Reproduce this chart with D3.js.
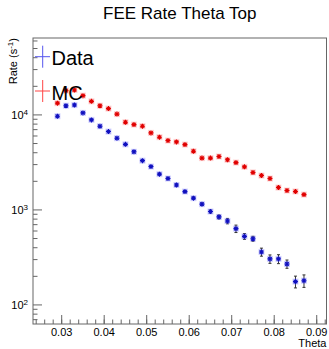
<!DOCTYPE html>
<html>
<head>
<meta charset="utf-8">
<script src="https://cdn.jsdelivr.net/npm/d3@7"></script>
<style>
  html, body { margin: 0; padding: 0; background: #fff; }
  svg { display: block; font-family: "Liberation Sans", Arial, sans-serif; }
</style>
</head>
<body>
<svg id="chart" width="329" height="349"></svg>
<script>
// bin centres (theta)
const theta = [0.029, 0.031, 0.033, 0.035, 0.037, 0.039, 0.041, 0.043, 0.045, 0.047,
               0.049, 0.051, 0.053, 0.055, 0.057, 0.059, 0.061, 0.063, 0.065, 0.067,
               0.069, 0.071, 0.073, 0.075, 0.077, 0.079, 0.081, 0.083, 0.085, 0.087]
// data rate and errors
const dataRate = [9690, 12500, 12700, 10500, 8860, 7600, 6680, 5690, 4900, 4090,
                  3300, 2860, 2380, 2140, 1830, 1560, 1330, 1150, 962, 844,
                  764, 635, 527, 498, 361, 305, 305, 270, 176, 180]
const dataErr = [150, 170, 170, 150, 130, 115, 100, 90, 80, 70,
                 60, 55, 50, 45, 42, 40, 38, 35, 34, 40,
                 50, 57, 37, 30, 35, 31, 33, 27, 25, 27]
// MC rate
const mcRate = [13300, 18000, 18300, 15950, 13900, 12500, 11650, 10200, 8380, 7910,
                7610, 6470, 5830, 5370, 5200, 4870, 4150, 3510, 3510, 3650,
                3370, 3150, 2840, 2480, 2300, 2140, 1720, 1600, 1565, 1450]

const xTicks = [0.03, 0.04, 0.05, 0.06, 0.07, 0.08, 0.09]
const yTicks = [100, 1000, 10000]

const frame = { left: 33, top: 38, right: 326.5, bottom: 324 }
const svg = d3.select("#chart")

const x = d3.scaleLinear().domain([0.02325, 0.0923]).range([frame.left, frame.right])
const y = d3.scaleLog().domain([63, 64500]).range([frame.bottom, frame.top])

const axisColor = "#666"

// title
svg.append("text")
  .attr("x", (frame.left + frame.right) / 2).attr("y", 19)
  .attr("text-anchor", "middle")
  .style("font-size", "17px")
  .text("FEE Rate Theta Top")

// frame
svg.append("rect")
  .attr("x", frame.left).attr("y", frame.top)
  .attr("width", frame.right - frame.left).attr("height", frame.bottom - frame.top)
  .attr("fill", "none").attr("stroke", axisColor).attr("stroke-width", 1)

// x ticks (inward)
const xMinor = d3.range(0.024, 0.0922, 0.002)
svg.append("g").selectAll("line").data(xMinor).join("line")
  .attr("x1", d => x(d)).attr("x2", d => x(d))
  .attr("y1", frame.bottom).attr("y2", frame.bottom - 4.5)
  .attr("stroke", axisColor)
svg.append("g").selectAll("line").data(xTicks).join("line")
  .attr("x1", d => x(d)).attr("x2", d => x(d))
  .attr("y1", frame.bottom).attr("y2", frame.bottom - 9)
  .attr("stroke", axisColor)
svg.append("g").selectAll("text").data(xTicks).join("text")
  .attr("x", d => x(d)).attr("y", 335.5)
  .attr("text-anchor", "middle")
  .style("font-size", "11px")
  .text(d => d3.format(".2f")(d))

// y ticks (inward)
const yMinor = []
for (let e = 1; e <= 4; e++) for (let k = 2; k <= 9; k++) yMinor.push(k * Math.pow(10, e))
svg.append("g").selectAll("line").data(yMinor.filter(v => v > 63 && v < 64500)).join("line")
  .attr("x1", frame.left).attr("x2", frame.left + 4.5)
  .attr("y1", d => y(d)).attr("y2", d => y(d))
  .attr("stroke", axisColor)
svg.append("g").selectAll("line").data(yTicks).join("line")
  .attr("x1", frame.left).attr("x2", frame.left + 9)
  .attr("y1", d => y(d)).attr("y2", d => y(d))
  .attr("stroke", axisColor)
const yl = svg.append("g").selectAll("text").data(yTicks).join("text")
  .attr("x", 28).attr("y", d => y(d) + 4.5)
  .attr("text-anchor", "end")
  .style("font-size", "11px")
yl.append("tspan").text("10")
yl.append("tspan").attr("dy", -4.5).style("font-size", "8px").text(d => Math.round(Math.log10(d)))

// axis titles
const ylab = svg.append("text")
  .attr("transform", `translate(16.5,${frame.top}) rotate(-90)`)
  .attr("text-anchor", "end")
  .style("font-size", "11px")
ylab.append("tspan").text("Rate (s")
ylab.append("tspan").attr("dy", -4).style("font-size", "8px").text("-1")
ylab.append("tspan").attr("dy", 4).text(")")

svg.append("text")
  .attr("x", frame.right).attr("y", 347)
  .attr("text-anchor", "end")
  .style("font-size", "11px")
  .text("Theta")

// asterisk marker
const drawMarkers = function (g, rates, dark, light) {
  const pts = g.selectAll("g").data(theta.map((t, i) => [t, rates[i]])).join("g")
    .attr("transform", d => `translate(${x(d[0])},${y(d[1])})`)
  pts.append("rect").attr("x", -3).attr("y", -3).attr("width", 6).attr("height", 6)
    .attr("fill", light).attr("opacity", 0.35)
  pts.append("path")
    .attr("d", "M-2.5,0H2.5M0,-2.5V2.5M-1.8,-1.8L1.8,1.8M-1.8,1.8L1.8,-1.8")
    .attr("stroke", dark).attr("stroke-width", 1.1)
}

// data error bars
const eb = svg.append("g").selectAll("g").data(theta.map((t, i) => [t, dataRate[i], dataErr[i]])).join("g")
eb.append("line")
  .attr("x1", d => x(d[0])).attr("x2", d => x(d[0]))
  .attr("y1", d => y(d[1] - d[2])).attr("y2", d => y(d[1] + d[2]))
  .attr("stroke", "#333")
eb.append("line")
  .attr("x1", d => x(d[0]) - 1.5).attr("x2", d => x(d[0]) + 1.5)
  .attr("y1", d => y(d[1] - d[2])).attr("y2", d => y(d[1] - d[2]))
  .attr("stroke", "#333")
eb.append("line")
  .attr("x1", d => x(d[0]) - 1.5).attr("x2", d => x(d[0]) + 1.5)
  .attr("y1", d => y(d[1] + d[2])).attr("y2", d => y(d[1] + d[2]))
  .attr("stroke", "#333")

drawMarkers(svg.append("g"), mcRate, "#e00000", "#ff8080")
drawMarkers(svg.append("g"), dataRate, "#1010c0", "#8080ff")

// legend
const legend = [["Data", "#5555ee", 56.7], ["MC", "#ff4444", 91]]
legend.forEach(([label, col, ly]) => {
  svg.append("line").attr("x1", 42.7).attr("x2", 42.7).attr("y1", ly - 11).attr("y2", ly + 11)
    .attr("stroke", col)
  svg.append("line").attr("x1", 35).attr("x2", 50).attr("y1", ly).attr("y2", ly)
    .attr("stroke", col)
  svg.append("text").attr("x", 51.5).attr("y", ly + 8.5)
    .style("font-size", "20px")
    .text(label)
})
</script>
</body>
</html>
